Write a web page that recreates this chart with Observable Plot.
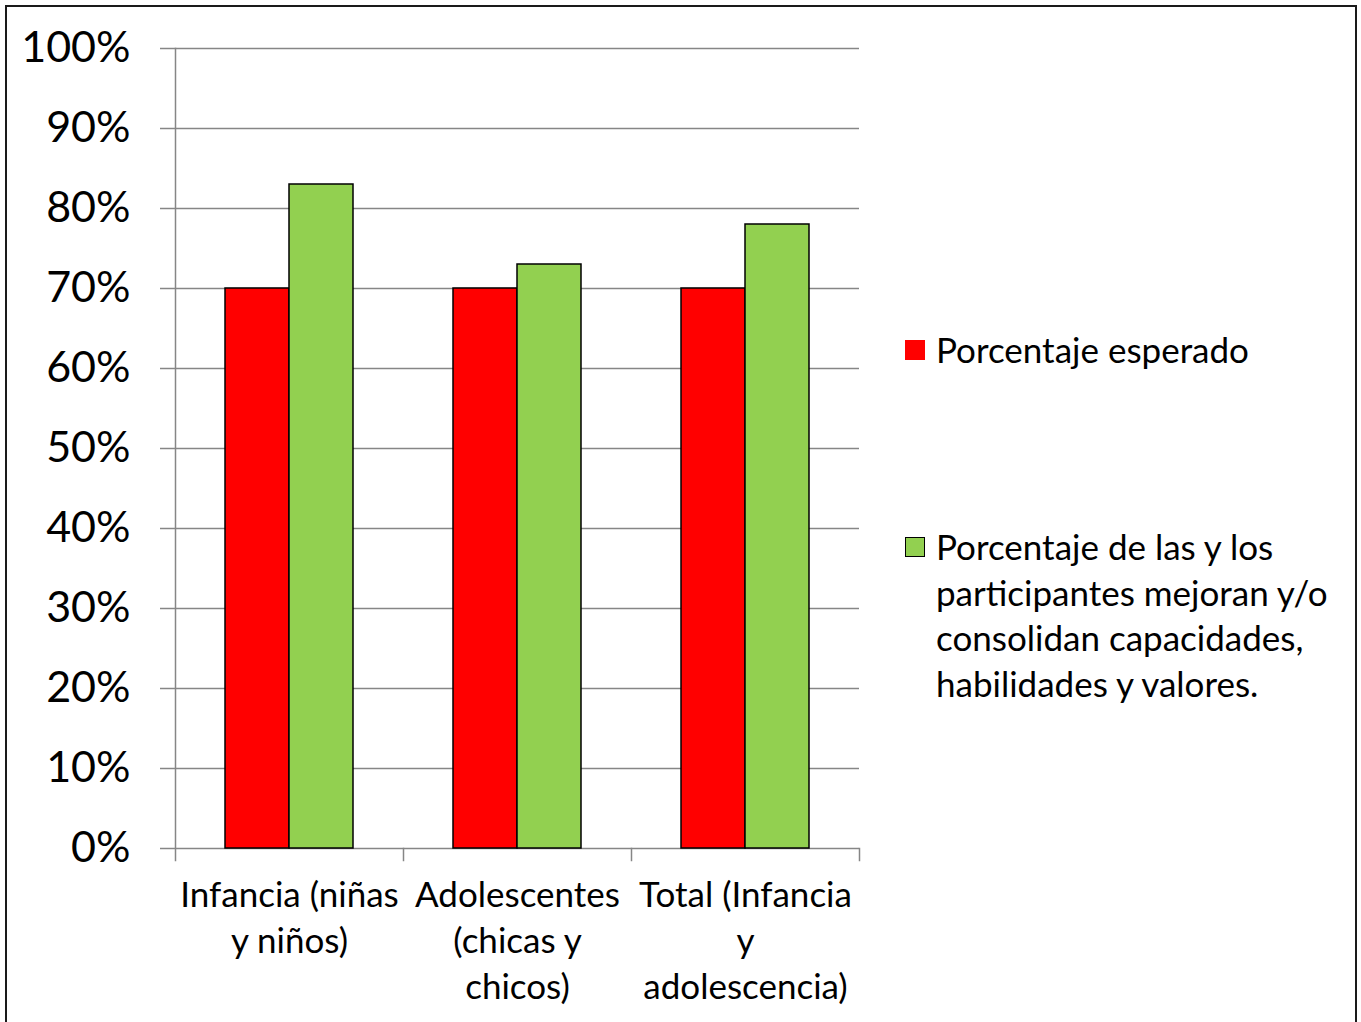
<!DOCTYPE html>
<html>
<head>
<meta charset="utf-8">
<script src="https://cdn.jsdelivr.net/npm/d3@7"></script>
<script src="https://cdn.jsdelivr.net/npm/@observablehq/plot@0.6"></script>
<style>
  html, body { margin: 0; padding: 0; background: #fff; }
  #wrap { position: relative; width: 1361px; height: 1022px; overflow: hidden; font-family: Lato, sans-serif; }
  #border { position: absolute; left: 5px; top: 5px; width: 1352px; height: 1040px; border: 2px solid #1a1a1a; box-sizing: border-box; }
  #chart { position: absolute; left: 0; top: 0; }
  .legend-item { position: absolute; left: 905px; display: flex; align-items: flex-start; font-size: 35px; line-height: 45.5px; color: #000; }
  .swatch { width: 20px; height: 20px; box-sizing: border-box; margin-right: 11px; flex: none; }
  .legend-text { width: 420px; }
</style>
</head>
<body>
<div id="wrap">
  <div id="chart"></div>
  <div id="legend"></div>
  <div id="border"></div>
</div>
<script>
const categories = ["Infancia (niñas y niños)", "Adolescentes (chicas y chicos)", "Total (Infancia y adolescencia)"];
const categoryLabels = ["Infancia (niñas\ny niños)", "Adolescentes\n(chicas y\nchicos)", "Total (Infancia\ny\nadolescencia)"];
const series = ["Porcentaje esperado", "Porcentaje de las y los participantes mejoran y/o consolidan capacidades, habilidades y valores."];
const esperado = [70, 70, 70];
const participantes = [83, 73, 78];
const colors = ["#FF0000", "#92D050"];
const yTicks = [0, 10, 20, 30, 40, 50, 60, 70, 80, 90, 100];

const data = categories.flatMap((c, i) => [
  {category: c, series: series[0], value: esperado[i]},
  {category: c, series: series[1], value: participantes[i]}
]);

const axisColor = "#868686";

const chart = Plot.plot({
  width: 1361,
  height: 1022,
  marginLeft: 175,
  marginRight: 502,
  marginTop: 48,
  marginBottom: 174,
  style: {fontFamily: "Lato, sans-serif", background: "transparent", color: "#000"},
  fx: {domain: categories, padding: 0, label: null},
  x: {domain: series, paddingInner: 0, paddingOuter: 0.754, axis: null},
  y: {domain: [0, 100], label: null},
  color: {domain: series, range: colors},
  marks: [
    Plot.gridY(yTicks, {stroke: axisColor, strokeOpacity: 1, strokeWidth: 1.5}),
    Plot.axisY(yTicks, {tickSize: 15, tickPadding: 30, stroke: axisColor, strokeWidth: 1.5, fill: "#000", fontSize: 43, tickFormat: d => d + "%", label: null}),
    Plot.frame({anchor: "left", facetAnchor: "left", stroke: axisColor, strokeWidth: 1.5, insetBottom: -12}),
    Plot.frame({anchor: "right", stroke: axisColor, strokeWidth: 1.5, insetTop: 800, insetBottom: -12}),
    Plot.barY(data, {fx: "category", x: "series", y: "value", fill: "series", stroke: "#000", strokeWidth: 1.5}),
    Plot.axisFx({anchor: "bottom", tickSize: 0, tickPadding: 26, fontSize: 35, lineHeight: 1.314, fill: "#000", label: null,
      tickFormat: d => categoryLabels[categories.indexOf(d)]})
  ]
});
document.getElementById("chart").appendChild(chart);

const legendTops = [327, 524];
const legend = document.getElementById("legend");
series.forEach((s, i) => {
  const item = document.createElement("div");
  item.className = "legend-item";
  item.style.top = legendTops[i] + "px";
  const sw = document.createElement("div");
  sw.className = "swatch";
  sw.style.background = colors[i];
  sw.style.marginTop = "13px";
  if (i === 1) sw.style.border = "1.5px solid #000";
  const tx = document.createElement("div");
  tx.className = "legend-text";
  tx.textContent = s;
  item.appendChild(sw);
  item.appendChild(tx);
  legend.appendChild(item);
});
</script>
</body>
</html>
